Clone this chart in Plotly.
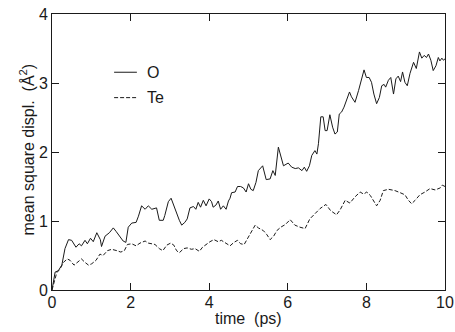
import plotly.graph_objects as go

# ---- data ----
time_O = [0, 0.08, 0.16, 0.25, 0.33, 0.42, 0.5, 0.61, 0.69, 0.75, 0.84, 0.9, 0.98, 1.05, 1.14,
          1.23, 1.26, 1.35, 1.46, 1.56, 1.63, 1.71, 1.81, 1.88, 1.94, 2.03, 2.14, 2.2, 2.28, 2.37,
          2.45, 2.54, 2.62, 2.66, 2.73, 2.83, 2.87, 2.96, 3.03, 3.1, 3.17, 3.24, 3.3, 3.38, 3.44,
          3.51, 3.6, 3.66, 3.72, 3.78, 3.85, 3.92, 4.0, 4.06, 4.1, 4.17, 4.23, 4.29, 4.36, 4.43,
          4.49, 4.53, 4.57, 4.66, 4.72, 4.8, 4.87, 4.94, 5.0, 5.06, 5.12, 5.19, 5.25, 5.36, 5.45,
          5.55, 5.62, 5.68, 5.76, 5.82, 5.89, 6.01, 6.1, 6.19, 6.27, 6.36, 6.42, 6.48, 6.55, 6.61,
          6.69, 6.74, 6.78, 6.84, 6.9, 6.95, 7.0, 7.07, 7.14, 7.2, 7.26, 7.31, 7.37, 7.43, 7.5,
          7.57, 7.62, 7.71, 7.8, 7.88, 7.94, 8.0, 8.07, 8.13, 8.19, 8.26, 8.33, 8.39, 8.45, 8.49,
          8.56, 8.62, 8.69, 8.75, 8.81, 8.87, 8.92, 8.98, 9.04, 9.11, 9.2, 9.27, 9.35, 9.41, 9.47,
          9.53, 9.58, 9.64, 9.7, 9.77, 9.83, 9.87, 9.92, 9.96, 10.0]
msd_O = [0, 0.26, 0.28, 0.36, 0.60, 0.73, 0.72, 0.62, 0.67, 0.64, 0.72, 0.67, 0.75, 0.70, 0.83,
         0.73, 0.63, 0.78, 0.83, 0.90, 0.85, 0.79, 0.71, 0.69, 0.91, 0.97, 0.98, 1.07, 1.22, 1.17,
         1.22, 1.17, 1.19, 1.19, 1.01, 1.01, 1.08, 1.28, 1.33, 1.22, 1.10, 1.01, 0.94, 0.98, 1.03,
         1.19, 1.21, 1.17, 1.27, 1.20, 1.30, 1.22, 1.32, 1.28, 1.20, 1.23, 1.29, 1.17, 1.22, 1.17,
         1.29, 1.33, 1.41, 1.42, 1.50, 1.50, 1.48, 1.42, 1.54, 1.46, 1.44, 1.56, 1.73, 1.80, 1.60,
         1.61, 1.73, 1.66, 2.07, 1.93, 1.80, 1.84, 1.78, 1.76, 1.77, 1.73, 1.78, 1.72, 1.80, 1.95,
         2.02, 1.97, 2.12, 2.51, 2.51, 2.31, 2.31, 2.54, 2.36, 2.26, 2.29, 2.55, 2.58, 2.65, 2.75,
         2.87, 2.80, 2.72, 2.89, 3.08, 3.19, 3.08, 3.08, 3.01, 2.84, 2.70, 2.79, 2.96, 2.98, 2.94,
         3.04, 3.08, 2.84, 3.06, 3.10, 3.02, 3.16, 3.01, 2.96, 3.14, 3.30, 3.21, 3.45, 3.36, 3.40,
         3.37, 3.42, 3.33, 3.18, 3.25, 3.37, 3.32, 3.36, 3.33, 3.35]

time_Te = [0, 0.12, 0.2, 0.29, 0.39, 0.46, 0.56, 0.65, 0.75, 0.84, 0.93, 1.01, 1.12, 1.22, 1.3,
           1.41, 1.52, 1.65, 1.75, 1.84, 1.92, 2.03, 2.14, 2.24, 2.37, 2.45, 2.54, 2.62, 2.73, 2.82,
           2.92, 3.02, 3.1, 3.17, 3.24, 3.35, 3.44, 3.55, 3.64, 3.75, 3.83, 3.94, 4.02, 4.12, 4.23,
           4.31, 4.43, 4.53, 4.63, 4.72, 4.8, 4.89, 4.97, 5.08, 5.17, 5.25, 5.38, 5.47, 5.55, 5.64,
           5.72, 5.82, 5.94, 6.06, 6.18, 6.31, 6.44, 6.56, 6.69, 6.82, 6.97, 7.09, 7.24, 7.33, 7.46,
           7.58, 7.71, 7.84, 7.93, 8.01, 8.1, 8.18, 8.26, 8.35, 8.43, 8.56, 8.73, 8.86, 8.98, 9.07,
           9.15, 9.24, 9.36, 9.49, 9.62, 9.75, 9.88, 9.93, 10.0]
msd_Te = [0, 0.25, 0.30, 0.40, 0.45, 0.43, 0.36, 0.40, 0.45, 0.40, 0.36, 0.38, 0.43, 0.52, 0.50,
          0.57, 0.59, 0.57, 0.55, 0.57, 0.66, 0.67, 0.64, 0.68, 0.71, 0.68, 0.67, 0.66, 0.60, 0.57,
          0.65, 0.68, 0.65, 0.57, 0.54, 0.60, 0.61, 0.59, 0.60, 0.56, 0.62, 0.67, 0.70, 0.73, 0.70,
          0.72, 0.67, 0.64, 0.69, 0.72, 0.67, 0.66, 0.74, 0.86, 0.94, 0.90, 0.86, 0.80, 0.73, 0.78,
          0.86, 0.91, 0.95, 1.02, 0.94, 0.91, 0.89, 1.03, 1.10, 1.18, 1.24, 1.15, 1.09, 1.16, 1.30,
          1.26, 1.35, 1.42, 1.39, 1.42, 1.37, 1.30, 1.22, 1.30, 1.44, 1.46, 1.44, 1.41, 1.38, 1.30,
          1.25, 1.30, 1.38, 1.42, 1.47, 1.45, 1.48, 1.52, 1.50]

x_ticks = [0, 2, 4, 6, 8, 10]
y_ticks = [0, 1, 2, 3, 4]
series_names = ["O", "Te"]
x_title = "time  (ps)"
y_title = "mean square displ.  (Å<sup>2</sup>)"

FONT = "Liberation Sans, Arial, Helvetica, sans-serif"
INK = "#1a1a1a"

fig = go.Figure()
fig.add_trace(go.Scatter(x=time_O, y=msd_O, mode="lines", name=series_names[0],
                         line=dict(color=INK, width=1), showlegend=False))
fig.add_trace(go.Scatter(x=time_Te, y=msd_Te, mode="lines", name=series_names[1],
                         line=dict(color=INK, width=1, dash="4px,2px"), showlegend=False))

# manual legend (line sample + label)
legend_rows = [(0.789, "solid"), (0.697, "4px,2px")]
for (yp, dash), name in zip(legend_rows, series_names):
    fig.add_shape(type="line", xref="paper", yref="paper", x0=0.158, x1=0.216, y0=yp, y1=yp,
                  line=dict(color=INK, width=1, dash=dash))
    fig.add_annotation(xref="paper", yref="paper", x=0.236, y=yp, text=name, showarrow=False,
                       xanchor="left", yanchor="middle", font=dict(family=FONT, size=16, color=INK))

# axis titles placed as in the reference
fig.add_annotation(xref="paper", yref="paper", x=0.501, y=-0.104, text=x_title, showarrow=False,
                   xanchor="center", yanchor="middle", font=dict(family=FONT, size=16, color=INK))
fig.add_annotation(xref="paper", yref="paper", x=-0.063, y=0.51, text=y_title, showarrow=False,
                   textangle=-90, xanchor="center", yanchor="middle",
                   font=dict(family=FONT, size=16, color=INK))

axis_common = dict(showline=True, linecolor=INK, linewidth=1, mirror="ticks", ticks="inside",
                   ticklen=7, tickwidth=1, tickcolor=INK, showgrid=False, zeroline=False,
                   automargin=False, tickfont=dict(family=FONT, size=16, color=INK))

fig.update_xaxes(range=[0, 10], tickvals=x_ticks, ticktext=[str(v) for v in x_ticks],
                 ticklabelstandoff=-2, **axis_common)
fig.update_yaxes(range=[0, 4], tickvals=y_ticks, ticktext=[str(v) for v in y_ticks], **axis_common)

fig.update_layout(width=455, height=332, margin=dict(l=52, r=10, t=14, b=42),
                  paper_bgcolor="white", plot_bgcolor="white",
                  font=dict(family=FONT, size=16, color=INK))

fig.write_html("out.html", config={"displayModeBar": False})

# remove the default 8px body margin so the figure sits at the window's corner
with open("out.html", "r", encoding="utf-8") as fh:
    html = fh.read()
html = html.replace("<head>", "<head><style>html,body{margin:0;padding:0;overflow:hidden;}</style>", 1)
with open("out.html", "w", encoding="utf-8") as fh:
    fh.write(html)
